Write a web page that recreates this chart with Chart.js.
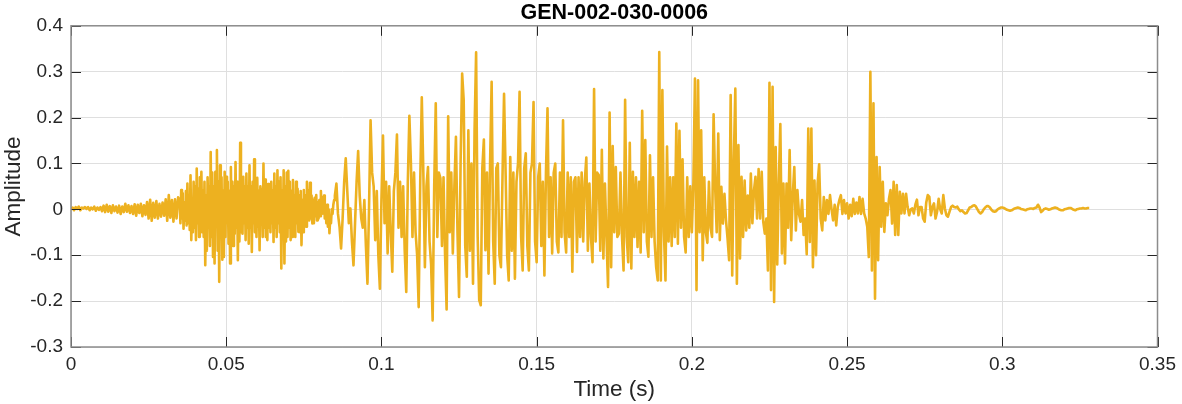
<!DOCTYPE html>
<html>
<head>
<meta charset="utf-8">
<script src="https://cdn.jsdelivr.net/npm/chart.js@4.4.1/dist/chart.umd.min.js"></script>
<style>
  html, body { margin: 0; padding: 0; background: #fff; }
  #wrap { width: 1182px; height: 404px; position: relative; }
</style>
</head>
<body>
<div id="wrap"><canvas id="wave"></canvas></div>
<script>
const chartTitle = 'GEN-002-030-0006';
const xLabel = 'Time (s)';
const yLabel = 'Amplitude';
const xTicks = [0, 0.05, 0.1, 0.15, 0.2, 0.25, 0.3, 0.35];
const yTicks = [-0.3, -0.2, -0.1, 0, 0.1, 0.2, 0.3, 0.4];

// waveform, in pieces; each piece has a start time and a step
const segmentStarts = [0, 0.035, 0.085, 0.125, 0.167, 0.209, 0.25, 0.29];
const segmentSteps = [0.0005, 0.00025, 0.0005, 0.0005, 0.0005, 0.0005, 0.0005, 0.0005];

const lead = [
  0, 0.004, -0.002, 0.005, 0.001, 0.006, -0.002, 0.004, 0.002, 0.005,
  0.001, 0.005, -0.002, 0.004, 0.0, 0.006, -0.003, 0.004, -0.001, 0.005,
  -0.004, 0.008, -0.006, 0.01, -0.005, 0.007, -0.008, 0.009, -0.004, 0.006,
  -0.007, 0.008, -0.01, 0.006, -0.006, 0.012, -0.005, 0.009, -0.008, 0.007,
  -0.01, 0.011, -0.014, 0.01, -0.008, 0.012, -0.015, 0.009, -0.012, 0.016,
  -0.02, 0.021, -0.025, 0.014, -0.018, 0.018, -0.02, 0.012, -0.016, 0.015,
  -0.014, 0.022, -0.025, 0.031, -0.018, 0.02, -0.027, 0.022, -0.02, 0.026
];
const burst = [
  0.02, -0.03, 0.042, -0.02, 0.035, -0.042, 0.015, -0.025, 0.04, -0.035,
  0.056, -0.03, 0.03, -0.045, 0.074, -0.067, 0.02, -0.05, 0.06, -0.04,
  0.05, -0.067, 0.089, -0.03, 0.045, -0.06, 0.07, -0.02, 0.082, -0.05,
  0.04, -0.06, 0.06, -0.122, 0.03, -0.09, 0.07, -0.04, 0.05, -0.08,
  0.125, -0.06, 0.08, -0.104, 0.05, -0.118, 0.082, -0.03, 0.129, -0.09,
  0.06, -0.158, 0.096, -0.05, 0.07, -0.11, 0.04, -0.104, 0.082, -0.06,
  0.071, -0.03, 0.06, -0.075, 0.04, -0.118, 0.092, -0.05, 0.06, -0.08,
  0.05, -0.053, 0.103, -0.04, 0.06, -0.111, 0.03, -0.07, 0.145, -0.05,
  0.06, -0.053, 0.071, -0.03, 0.05, -0.067, 0.078, -0.04, 0.05, -0.075,
  0.096, -0.04, 0.05, -0.093, 0.06, -0.03, 0.109, -0.05, 0.04, -0.06,
  0.069, -0.038, 0.04, -0.089, 0.05, -0.03, 0.045, -0.06, 0.1, -0.04,
  0.065, -0.06, 0.03, -0.067, 0.055, -0.04, 0.042, -0.05, 0.06, -0.03,
  0.04, -0.071, 0.078, -0.04, 0.05, -0.06, 0.085, -0.03, 0.06, -0.05,
  0.07, -0.129, 0.04, -0.06, 0.085, -0.118, 0.05, -0.07, 0.08, -0.06,
  0.084, -0.04, 0.06, -0.067, 0.04, -0.06, 0.064, -0.05, 0.03, -0.06,
  0.06, -0.03, 0.045, -0.049, 0.03, -0.05, 0.04, -0.078, 0.02, -0.05,
  0.042, -0.02, 0.03, -0.038, 0.06, -0.02, 0.04, -0.024, 0.058, -0.02,
  0.03, -0.031, 0.02, -0.03, 0.025, -0.015, 0.031, -0.024, 0.015, -0.02,
  0.02, -0.015, 0.04, -0.01, 0.025, -0.009, 0.03, -0.02, 0.01, -0.03,
  0.01, -0.038, 0.0, -0.052, -0.02, -0.03, 0.0, -0.01, 0.01, 0.02
];
const onset = [
  0.03, 0.056, -0.01, -0.038, -0.085, -0.02, 0.06, 0.111, 0.04, -0.03,
  0.002, -0.07, -0.122, -0.03, 0.06, 0.127, 0.03, -0.02, -0.04, 0.02,
  -0.08, -0.162, 0.0, 0.194, 0.08, 0.05, -0.067, 0.04, -0.1, -0.173,
  0.02, 0.161, -0.03, 0.06, -0.096, 0.05, -0.05, -0.136, 0.04, 0.08,
  0.163, -0.04, 0.06, -0.06, 0.05, -0.09, -0.18, 0.06, 0.204, 0.1,
  -0.06, 0.08, -0.05, -0.1, -0.213, 0.06, 0.244, 0.08, -0.126, 0.05,
  0.092, -0.07, -0.12, -0.242, 0.05, 0.231, -0.06, 0.08, 0.068, -0.08,
  0.07, -0.1, -0.218, 0.203, -0.05, 0.08, -0.096, 0.05, 0.158, -0.05
];
const voicedA = [
  -0.191, 0.1, 0.296, 0.238, -0.08, -0.147, 0.172, -0.09, 0.1, -0.162,
  0.172, 0.342, -0.06, -0.198, -0.209, 0.09, 0.152, -0.089, 0.08, -0.14,
  0.1, 0.278, -0.07, -0.162, 0.09, 0.1, -0.1, -0.126, 0.07, 0.252,
  0.08, -0.1, -0.155, 0.114, -0.09, 0.08, -0.151, 0.06, 0.1, 0.256,
  -0.06, -0.133, 0.09, 0.122, -0.08, -0.133, 0.08, 0.1, 0.234, -0.07,
  -0.115, 0.07, 0.1, -0.08, 0.06, -0.144, 0.08, 0.22, -0.06, 0.07,
  -0.096, 0.08, 0.1, -0.07, -0.094, 0.08, -0.06, 0.194, -0.05, -0.094,
  0.08, -0.06, 0.07, -0.136, 0.06, 0.07, -0.093, 0.07, -0.06, 0.08,
  -0.07, 0.06, 0.113, -0.09
];
const voicedB = [
  0.056, -0.06, -0.115, 0.262, -0.07, 0.08, 0.075, -0.09, 0.13, -0.107,
  0.056, -0.06, -0.169, 0.211, -0.126, 0.138, -0.05, 0.092, -0.06, -0.053,
  0.08, -0.06, -0.133, 0.239, -0.06, -0.115, 0.145, -0.129, 0.082, -0.06,
  0.07, -0.082, 0.06, -0.094, 0.215, -0.05, 0.151, -0.07, -0.103, 0.118,
  -0.06, 0.07, -0.07, -0.126, -0.155, 0.343, -0.155, 0.26, -0.05, -0.155,
  0.137, -0.07, 0.07, -0.08, 0.07, -0.06, 0.187, -0.075, 0.171, -0.04,
  0.109, -0.06, -0.094, 0.07, -0.06, 0.05, -0.05, 0.06, 0.285, -0.176,
  0.281, -0.05, 0.172, -0.111, 0.07, -0.05, -0.073, 0.06, -0.04, -0.06,
  0.207, 0.05, -0.05, 0.165
];
const voicedC = [
  -0.067, 0.049, -0.031, 0.034, -0.024, -0.064, -0.111, 0.249, -0.144, 0.1,
  0.263, -0.162, 0.14, -0.107, 0.071, -0.06, 0.063, -0.046, 0.03, -0.04,
  0.078, -0.03, 0.04, 0.071, -0.02, 0.088, -0.02, 0.082, -0.027, -0.053,
  -0.02, -0.133, 0.276, -0.176, 0.267, -0.202, 0.136, -0.12, 0.056, 0.186,
  -0.096, 0.056, -0.118, 0.056, -0.04, 0.129, -0.067, 0.03, 0.092, -0.046,
  0.042, -0.01, -0.027, 0.02, -0.056, -0.02, -0.098, 0.176, -0.071, 0.176,
  -0.126, 0.063, -0.1, 0.056, 0.098, -0.02, -0.046, 0.027, -0.024, 0.02,
  -0.01, 0.031, 0.0, -0.024, 0.01, -0.035, 0.005, 0.02, 0.031, -0.01,
  0.02, -0.009
];
const release = [
  0.013, -0.02, 0.01, -0.015, 0.023, -0.01, 0.015, -0.009, 0.027, -0.01,
  0.023, -0.009, -0.02, -0.038, -0.104, 0.3, -0.133, 0.231, -0.195, 0.114,
  -0.111, 0.092, -0.038, 0.06, -0.049, 0.013, -0.013, 0.023, 0.042, -0.031,
  0.06, -0.056, 0.053, -0.056, 0.038, -0.009, 0.034, -0.009, 0.034, 0.005,
  -0.013, 0.0, 0.002, -0.009, 0.01, 0.021, -0.013, 0.005, 0.005, -0.02,
  -0.027, 0.015, 0.031, 0.027, -0.013, 0.005, 0.013, -0.02, -0.005, 0.023,
  0.0, -0.009, 0.031, 0.002, -0.013, -0.016, -0.005, 0.005, 0.008, 0.005,
  0.004, 0.006, 0.0, -0.004, -0.002, -0.006, -0.009, -0.008, -0.002, 0.004
];
const tail = [
  0.005, 0.008, 0.009, 0.006, 0.0, -0.006, -0.009, -0.006, 0.0, 0.004,
  0.007, 0.007, 0.004, -0.001, -0.004, -0.005, -0.004, 0.0, 0.002, 0.004,
  0.004, 0.003, 0.001, -0.001, -0.002, -0.003, -0.002, 0.0, 0.002, 0.003,
  0.004, 0.003, 0.001, 0.0, -0.001, -0.002, 0.0, 0.001, 0.002, 0.002,
  0.001, 0.003, 0.004, 0.01, 0.004, -0.006, -0.003, 0.001, 0.002, 0.001,
  -0.001, 0.0, 0.002, 0.003, 0.004, 0.003, 0.001, -0.001, -0.002, -0.002,
  0.0, 0.001, 0.002, 0.003, 0.003, 0.001, -0.001, -0.002, 0.0, 0.001,
  0.002, 0.002, 0.003, 0.002, 0.002, 0.003, 0.003
];

const segments = [lead, burst, onset, voicedA, voicedB, voicedC, release, tail];
const points = [];
segments.forEach((seg, s) => {
  seg.forEach((v, k) => points.push({ x: segmentStarts[s] + k * segmentSteps[s], y: v }));
});

const fontFamily = '"Liberation Sans", Arial, Helvetica, sans-serif';
const textColor = '#262626';

// matlab style box with inward ticks on all four sides
const axesBox = {
  id: 'axesBox',
  afterDraw(chart) {
    const { ctx, chartArea: a, scales } = chart;
    ctx.save();
    ctx.strokeStyle = textColor;
    ctx.lineWidth = 1;
    ctx.beginPath();
    xTicks.forEach(v => {
      const px = Math.round(scales.x.getPixelForValue(v)) + 0.5;
      ctx.moveTo(px, a.bottom); ctx.lineTo(px, a.bottom - 10);
      ctx.moveTo(px, a.top); ctx.lineTo(px, a.top + 10);
    });
    yTicks.forEach(v => {
      const py = Math.round(scales.y.getPixelForValue(v)) + 0.5;
      ctx.moveTo(a.left, py); ctx.lineTo(a.left + 10, py);
      ctx.moveTo(a.right, py); ctx.lineTo(a.right - 10, py);
    });
    ctx.stroke();
    ctx.strokeStyle = '#8c8c8c';
    ctx.lineWidth = 1.5;
    ctx.strokeRect(a.left, a.top, a.right - a.left, a.bottom - a.top);
    ctx.restore();
  }
};

new Chart(document.getElementById('wave'), {
  type: 'line',
  data: {
    datasets: [{
      data: points,
      borderColor: '#EDB120',
      borderWidth: 2.6,
      borderJoinStyle: 'round',
      pointRadius: 0,
      tension: 0,
      fill: false
    }]
  },
  options: {
    responsive: true,
    maintainAspectRatio: false,
    animation: false,
    events: [],
    layout: { padding: { right: 21 } },
    plugins: {
      legend: { display: false },
      tooltip: { enabled: false },
      title: {
        display: true,
        text: chartTitle,
        fullSize: false,
        color: '#000',
        font: { family: fontFamily, size: 21.5, weight: 'bold' },
        padding: { top: 0, bottom: 0 }
      }
    },
    scales: {
      x: {
        type: 'linear',
        min: 0,
        max: 0.35,
        afterBuildTicks: s => { s.ticks = xTicks.map(v => ({ value: v })); },
        afterFit: s => { s.height = 57; },
        ticks: {
          callback: v => String(v),
          color: textColor,
          font: { family: fontFamily, size: 19 },
          padding: 6,
          maxRotation: 0,
          autoSkip: false
        },
        grid: { color: '#dfdfdf', drawTicks: false },
        border: { display: false },
        title: {
          display: true,
          text: xLabel,
          color: textColor,
          font: { family: fontFamily, size: 22.5 },
          padding: { top: 2, bottom: 1 }
        }
      },
      y: {
        min: -0.3,
        max: 0.4,
        afterBuildTicks: s => { s.ticks = yTicks.map(v => ({ value: v })); },
        afterFit: s => { s.width = 71; },
        ticks: {
          callback: v => String(v),
          color: textColor,
          font: { family: fontFamily, size: 19 },
          padding: 8,
          autoSkip: false
        },
        grid: { color: '#dfdfdf', drawTicks: false },
        border: { display: false },
        title: {
          display: true,
          text: yLabel,
          color: textColor,
          font: { family: fontFamily, size: 22.5 },
          padding: { top: 0, bottom: 0 }
        }
      }
    }
  },
  plugins: [axesBox]
});
</script>
</body>
</html>
